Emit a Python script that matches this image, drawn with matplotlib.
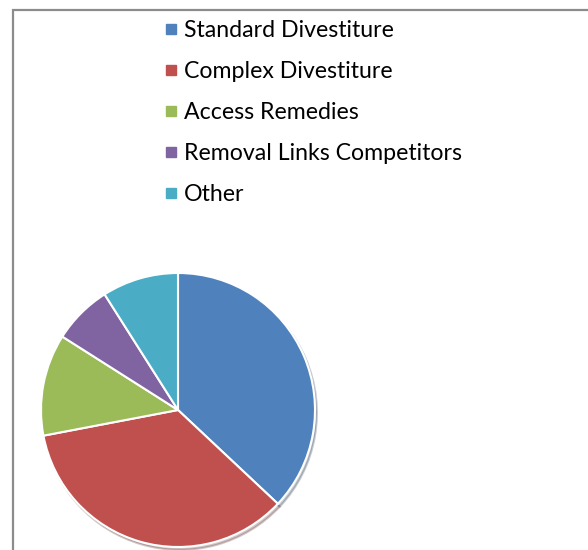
import matplotlib
matplotlib.use("Agg")
import matplotlib.pyplot as plt
from matplotlib.lines import Line2D
from matplotlib.patches import Rectangle

# remedy categories and their share of cases (%)
categories = ['Standard Divestiture', 'Complex Divestiture', 'Access Remedies',
              'Removal Links Competitors', 'Other']
shares = [37, 35, 12, 7, 9]
colors = ['#4F81BD', '#C0504D', '#9BBB59', '#8064A2', '#4BACC6']

W, H = 588, 550
fig = plt.figure(figsize=(W / 100, H / 100), dpi=100)
plt.rcParams['font.family'] = ['Lato', 'DejaVu Sans']

# chart frame (runs past the right and bottom edges)
fig.patches.append(Rectangle((13 / W, -0.1), 1.2, 1 - 10 / H + 0.1,
                             transform=fig.transFigure, fill=False,
                             edgecolor='#8c8c8c', linewidth=1.6))

# pie
cx, cy, r = 178, 410, 137
ax = fig.add_axes([(cx - r) / W, (H - cy - r) / H, 2 * r / W, 2 * r / H])
ax.pie(shares, colors=colors, startangle=90, counterclock=False,
       wedgeprops=dict(edgecolor='white', linewidth=1.5),
       shadow=dict(ox=0.01, oy=-0.015, shade=0.6, alpha=0.25))
ax.set_xlim(-1.0, 1.0)
ax.set_ylim(-1.0, 1.0)
ax.set_aspect('equal')
ax.axis('off')

handles = [Line2D([], [], marker='s', linestyle='none', markersize=7,
                  markerfacecolor=c, markeredgecolor=c) for c in colors]
fig.legend(handles, categories, loc='upper left',
           bbox_to_anchor=(160.5 / W, 1 - 15.5 / H), frameon=False,
           fontsize=16.7, handlelength=0.5, handletextpad=0.31,
           labelspacing=0.865, borderpad=0.2, borderaxespad=0)

fig.savefig('out.png', dpi=100)
